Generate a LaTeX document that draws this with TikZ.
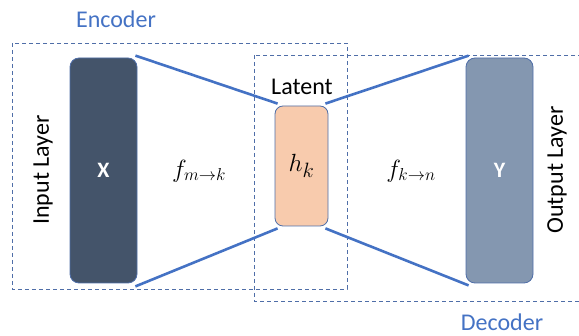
\documentclass[tikz,border=0pt]{standalone}
\usepackage{fontspec}
\setmainfont{Carlito}
\usepackage{amsmath}
\begin{document}
\begin{tikzpicture}[x=1pt,y=-1pt,
  dbox/.style={draw=dashblue, dashed, line width=0.9pt, dash pattern=on 4pt off 3pt},
  layerbox/.style={draw=edgeblue, line width=0.8pt, rounded corners=9pt, minimum width=67pt, inner sep=0pt},
  conn/.style={draw=linkblue, line width=2.6pt},
  lbl/.style={font=\fontsize{24}{26}\selectfont},
  bluelbl/.style={font=\fontsize{24}{26}\selectfont, text=linkblue}]
\definecolor{dashblue}{HTML}{4F6EA8}
\definecolor{edgeblue}{HTML}{4F6EA8}
\definecolor{linkblue}{HTML}{4472C4}
\definecolor{xfill}{HTML}{44546A}
\definecolor{yfill}{HTML}{8497B0}
\definecolor{hfill}{HTML}{F8CBAD}
\useasboundingbox (0,0) rectangle (579,336);
\clip (0,0) rectangle (579,336);
% dashed groups
\draw[dbox] (12,43) rectangle (347,289);
\draw[dbox] (254,55) rectangle (585,301);
\node[bluelbl] (enc) at (116,19) {Encoder};
\node[bluelbl] (dec) at (502,322) {Decoder};
% layers
\node[layerbox, fill=xfill, minimum height=225pt, text=white, font=\bfseries\fontsize{22}{24}\selectfont] (X) at (103.5,170.5) {X};
\node[layerbox, fill=yfill, minimum height=225pt, text=white, font=\bfseries\fontsize{22}{24}\selectfont] (Y) at (499.5,170.5) {Y};
\node[layerbox, fill=hfill, minimum width=53pt, minimum height=120pt, rounded corners=8pt, font=\fontsize{29}{31}\selectfont] (H) at (301.5,166) {$h_k$};
% connectors
\draw[conn] ([xshift=-2pt,yshift=2pt]X.north east) -- ([xshift=3pt,yshift=2pt]H.north west);
\draw[conn] ([xshift=-2pt,yshift=-3pt]X.south east) -- ([xshift=3pt,yshift=-2pt]H.south west);
\draw[conn] ([xshift=-3pt,yshift=2pt]H.north east) -- ([xshift=3pt,yshift=2pt]Y.north west);
\draw[conn] ([xshift=-3pt,yshift=-2pt]H.south east) -- ([xshift=3pt,yshift=-2pt]Y.south west);
% labels
\node[lbl] (lat) at (302,87) {Latent};
\node[lbl, rotate=90] (inl) at (43,170) {Input Layer};
\node[lbl, rotate=90] (outl) at (557,170) {Output Layer};
\node[font=\fontsize{25}{27}\selectfont] (fenc) at (199,171) {$f_{m\to k}$};
\node[font=\fontsize{25}{27}\selectfont] (fdec) at (411,171) {$f_{k\to n}$};
\end{tikzpicture}
\end{document}
